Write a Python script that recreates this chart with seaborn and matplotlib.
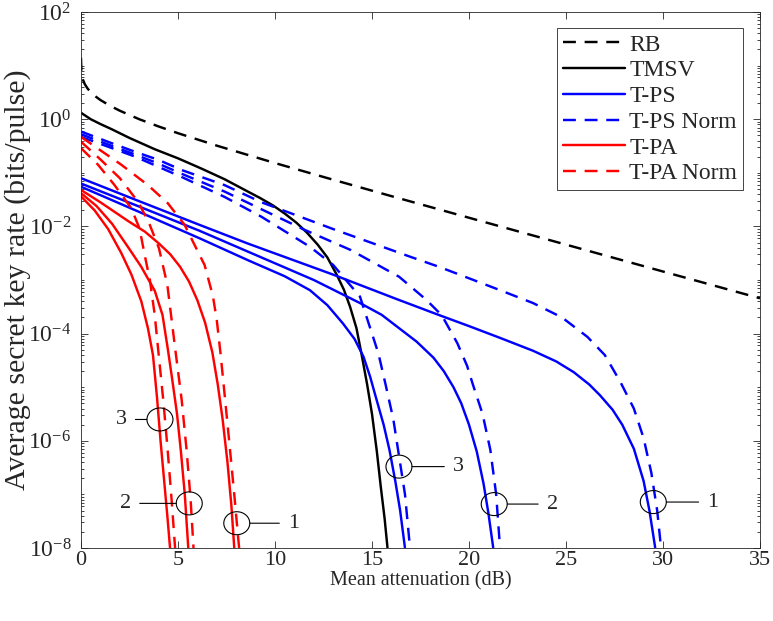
import numpy as np
import pandas as pd
import matplotlib
matplotlib.use("Agg")
import matplotlib.pyplot as plt
import matplotlib.ticker as mticker
import matplotlib.transforms as mtransforms
from matplotlib.patches import Ellipse
from matplotlib.lines import Line2D
import seaborn as sns

# ---------------- data ----------------
# RB bound (bits/pulse)
rb_x = [0, 0.02, 0.05, 0.1, 0.2, 0.35, 0.5, 0.75, 1, 1.5, 2, 3, 4, 5, 7, 10, 13, 16, 20, 25, 30, 35]
rb_y = [14, 7.76, 6.45, 5.46, 4.47, 3.69, 3.20, 2.66, 2.28, 1.78, 1.44, 1.00, 0.732, 0.548,
        0.321, 0.152, 0.0742, 0.0367, 0.0145, 0.00457, 0.00144, 0.000456]

# Remaining curves: x in dB, key rate given as log10 value
tmsv_x = [0, 0.5, 1, 1.6, 2.5, 3.8, 5, 6.2, 7.4, 8.6, 9.23, 9.9, 10.5, 11.1, 11.63, 12.2, 12.7,
          13.18, 13.55, 13.87, 14.2, 14.47, 14.75, 15.0, 15.25, 15.45, 15.65, 15.8]
tmsv_log = [0.12, 0.0, -0.09, -0.19, -0.35, -0.56, -0.73, -0.92, -1.12, -1.35, -1.47, -1.61, -1.76,
            -1.93, -2.11, -2.34, -2.58, -2.9, -3.18, -3.5, -3.9, -4.4, -4.95, -5.5, -6.2, -6.85,
            -7.45, -8.0]

tps1_x = [0, 3, 6.1, 8.6, 13, 16.3, 18.5, 20.0, 21.6, 23.3, 24.5, 25.4, 26.2, 26.75, 27.4, 27.9,
          28.5, 29.0, 29.3, 29.6]
tps1_log = [-1.10, -1.53, -1.97, -2.32, -2.9, -3.36, -3.66, -3.86, -4.08, -4.32, -4.52, -4.72,
            -4.95, -5.15, -5.42, -5.7, -6.15, -6.75, -7.3, -8.0]
tps2_x = [0, 3, 6.1, 8.6, 12, 14.38, 15.5, 16.4, 17.3, 18.17, 18.7, 19.2, 19.6, 20.0, 20.4,
          20.75, 21.0, 21.25]
tps2_log = [-1.20, -1.63, -2.08, -2.47, -3.0, -3.43, -3.65, -3.9, -4.15, -4.45, -4.7, -5.0, -5.3,
            -5.7, -6.2, -6.8, -7.35, -8.0]
tps3_x = [0, 3, 6.1, 8.6, 10.5, 11.8, 12.7, 13.5, 14.1, 14.56, 14.9, 15.24, 15.6, 15.9, 16.2,
          16.45, 16.7]
tps3_log = [-1.26, -1.73, -2.22, -2.63, -2.93, -3.19, -3.47, -3.81, -4.1, -4.43, -4.8, -5.24,
            -5.7, -6.17, -6.75, -7.3, -8.0]

tpsn1_x = [0, 1.6, 2.8, 4, 5.2, 7.4, 9.3, 13, 17, 18.5, 21.6, 23.3, 24.8, 26.1, 27.0, 27.8, 28.5,
           29.0, 29.4, 29.7, 29.9]
tpsn1_log = [-0.23, -0.45, -0.61, -0.76, -0.95, -1.23, -1.55, -2.05, -2.57, -2.76, -3.19, -3.43,
             -3.7, -4.06, -4.4, -4.9, -5.4, -5.95, -6.6, -7.3, -8.0]
tpsn2_x = [0, 1.6, 2.8, 4, 5.2, 7.4, 9.3, 11.5, 13.9, 16.4, 17.8, 18.6, 19.4, 19.9, 20.2, 20.7,
           21.1, 21.4, 21.6]
tpsn2_log = [-0.28, -0.50, -0.66, -0.83, -1.02, -1.35, -1.68, -2.06, -2.44, -2.94, -3.37, -3.66,
             -4.18, -4.6, -4.95, -5.5, -6.17, -7.0, -8.0]
tpsn3_x = [0, 1.6, 2.8, 4, 5.2, 7.4, 9.3, 11.8, 13.0, 14.38, 15.33, 15.7, 16.1, 16.4, 16.7, 16.96]
tpsn3_log = [-0.33, -0.54, -0.70, -0.89, -1.08, -1.45, -1.82, -2.38, -2.72, -3.31, -4.37, -4.95,
             -5.6, -6.3, -7.0, -8.0]

tpa1_x = [0, 1, 2.47, 3.3, 4.02, 4.6, 5.1, 5.57, 6.0, 6.4, 6.77, 7.05, 7.3, 7.55, 7.75, 7.9]
tpa1_log = [-1.32, -1.55, -1.91, -2.1, -2.32, -2.52, -2.75, -3.03, -3.38, -3.8, -4.35, -4.95,
            -5.6, -6.4, -7.2, -8.0]
tpa2_x = [0, 0.8, 1.6, 2.47, 3.1, 3.8, 4.2, 4.48, 4.7, 4.95, 5.15, 5.35, 5.53]
tpa2_log = [-1.38, -1.62, -1.95, -2.41, -2.75, -3.2, -3.65, -4.3, -4.85, -5.5, -6.2, -7.0, -8.0]
tpa3_x = [0, 0.7, 1.4, 2.08, 2.6, 3.11, 3.45, 3.71, 3.92, 4.1, 4.3, 4.45, 4.59]
tpa3_log = [-1.44, -1.7, -2.05, -2.5, -2.9, -3.4, -3.9, -4.4, -5.2, -6.0, -6.8, -7.4, -8.0]

tpan1_x = [0, 1, 2.08, 3.45, 4.48, 5.34, 5.86, 6.37, 6.8, 7.0, 7.2, 7.42, 7.65, 7.9, 8.15]
tpan1_log = [-0.33, -0.58, -0.85, -1.23, -1.57, -1.97, -2.35, -2.72, -3.3, -3.75, -4.4, -5.2,
             -6.05, -7.0, -8.0]
tpan2_x = [0, 1, 2, 2.94, 3.5, 4.02, 4.45, 4.83, 5.19, 5.45, 5.65, 5.8]
tpan2_log = [-0.42, -0.75, -1.1, -1.54, -1.93, -2.41, -3.09, -4.21, -5.24, -6.2, -7.1, -8.0]
tpan3_x = [0, 0.88, 1.73, 2.59, 3.02, 3.28, 3.55, 3.8, 3.97, 4.24, 4.45, 4.65, 4.85]
tpan3_log = [-0.54, -0.85, -1.23, -1.66, -2.04, -2.53, -3.0, -3.65, -4.27, -5.24, -6.1, -7.0, -8.0]

legend_labels = ["RB", "TMSV", "T-PS", "T-PS Norm", "T-PA", "T-PA Norm"]
x_ticks = [0, 5, 10, 15, 20, 25, 30, 35]
y_tick_exps = [-8, -6, -4, -2, 0, 2]

# callout labels: text, ellipse centre (x dB, rate), text offset (points)
ann_text = ["3", "2", "1", "3", "2", "1"]
ann_x = [4.07, 5.58, 8.03, 16.39, 21.3, 29.5]
ann_y = [2.5e-6, 6.8e-8, 2.9e-8, 3.3e-7, 6.6e-8, 7.2e-8]
ann_dx = [-28, -46, 41, 43, 42, 43]

# ---------------- style ----------------
sns.set_style("ticks")
plt.rcParams["font.family"] = ["Liberation Serif", "DejaVu Serif"]
plt.rcParams["mathtext.fontset"] = "stix"

AX_GRAY = (0.15, 0.15, 0.15)
fig = plt.figure(figsize=(7.73, 6.21), dpi=100)
ax = fig.add_axes([81 / 773, 73 / 621, 679 / 773, 536 / 621])

LW = 1.75
DASH = (5.3, 3.6)

def draw(x, y, color, dashed):
    df = pd.DataFrame({"x": x, "y": y})
    sns.lineplot(data=df, x="x", y="y", ax=ax, color=color, lw=LW, estimator=None,
                 sort=False, legend=False)
    ln = ax.lines[-1]
    if dashed:
        ln.set_dashes(DASH)
    ln.set_solid_capstyle("butt")
    ln.set_dash_capstyle("butt")
    ln.set_solid_joinstyle("round")

draw(rb_x, rb_y, "black", True)
draw(tmsv_x, [10 ** v for v in tmsv_log], "black", False)
for xs, ls in [(tps1_x, tps1_log), (tps2_x, tps2_log), (tps3_x, tps3_log)]:
    draw(xs, [10 ** v for v in ls], (0, 0, 1), False)
for xs, ls in [(tpsn1_x, tpsn1_log), (tpsn2_x, tpsn2_log), (tpsn3_x, tpsn3_log)]:
    draw(xs, [10 ** v for v in ls], (0, 0, 1), True)
for xs, ls in [(tpa1_x, tpa1_log), (tpa2_x, tpa2_log), (tpa3_x, tpa3_log)]:
    draw(xs, [10 ** v for v in ls], (1, 0, 0), False)
for xs, ls in [(tpan1_x, tpan1_log), (tpan2_x, tpan2_log), (tpan3_x, tpan3_log)]:
    draw(xs, [10 ** v for v in ls], (1, 0, 0), True)

ax.set_yscale("log")
ax.set_xlim(0, 35)
ax.set_ylim(1e-8, 1e2)
ax.set_xticks(x_ticks)
ax.yaxis.set_major_locator(mticker.FixedLocator([10.0 ** e for e in y_tick_exps]))
minor = [m * 10.0 ** e for e in range(-8, 2) for m in range(1, 10)
         if not (m == 1 and e in y_tick_exps)]
ax.yaxis.set_minor_locator(mticker.FixedLocator(minor))
ax.yaxis.set_major_formatter(mticker.LogFormatterSciNotation())
ax.yaxis.set_minor_formatter(mticker.NullFormatter())
ax.xaxis.set_minor_locator(mticker.NullLocator())

ax.tick_params(which="both", direction="in", top=True, right=True, colors=AX_GRAY, width=0.6)
ax.tick_params(axis="x", which="major", labelsize=16, length=5, pad=2)
ax.tick_params(axis="y", which="major", labelsize=17, length=5, pad=7)
ax.tick_params(which="minor", length=2.5)
for sp in ax.spines.values():
    sp.set_color(AX_GRAY)
    sp.set_linewidth(0.6)
    sp.set_visible(True)

ax.set_xlabel("Mean attenuation (dB)", fontsize=14.5, color=AX_GRAY)
ax.set_ylabel("Average secret key rate (bits/pulse)", fontsize=21.5, color=AX_GRAY)
ax.xaxis.set_label_coords(0.5, -0.043)
ax.yaxis.set_label_coords(-0.0736, 0.5)

# legend
handles = [
    Line2D([], [], color="black", lw=LW, dashes=DASH),
    Line2D([], [], color="black", lw=LW),
    Line2D([], [], color=(0, 0, 1), lw=LW),
    Line2D([], [], color=(0, 0, 1), lw=LW, dashes=DASH),
    Line2D([], [], color=(1, 0, 0), lw=LW),
    Line2D([], [], color=(1, 0, 0), lw=LW, dashes=DASH),
]
leg = ax.legend(handles, legend_labels, loc="upper right", bbox_to_anchor=(0.975, 0.97),
                borderaxespad=0, fontsize=17, handlelength=2.6, handletextpad=0.2,
                labelspacing=0.18, borderpad=0.25, fancybox=False, framealpha=1)
leg.get_frame().set_edgecolor(AX_GRAY)
leg.get_frame().set_linewidth(0.6)

# callouts: ellipse + leader + number
for t, cx, cy, dx in zip(ann_text, ann_x, ann_y, ann_dx):
    tr = fig.dpi_scale_trans + mtransforms.ScaledTranslation(cx, cy, ax.transData)
    ax.add_patch(Ellipse((0, 0), 0.26, 0.23, transform=tr, fill=False, edgecolor="black",
                         lw=0.8, zorder=5, clip_on=False))
    ax.annotate(t, xy=(cx, cy), xycoords="data", xytext=(dx, 0), textcoords="offset points",
                ha="center", va="center", fontsize=16,
                arrowprops=dict(arrowstyle="-", color="black", lw=0.8, shrinkA=4, shrinkB=9.4))

fig.savefig("out.png", dpi=100)
